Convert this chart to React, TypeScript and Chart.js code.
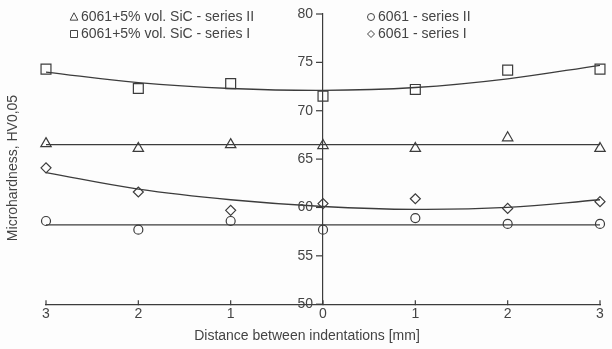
import React, { useEffect, useRef } from "react";
import { Chart, registerables } from "chart.js";

Chart.register(...registerables);

const xPositions = [-3, -2, -1, 0, 1, 2, 3];
const xTickLabels = ["3", "2", "1", "0", "1", "2", "3"];
const yTicks = [50, 55, 60, 65, 70, 75, 80];

const sicSeriesII = [66.6, 66.1, 66.5, 66.4, 66.1, 67.2, 66.1];
const sicSeriesI = [74.3, 72.3, 72.8, 71.5, 72.2, 74.2, 74.3];
const alSeriesII = [58.6, 57.7, 58.6, 57.7, 58.9, 58.3, 58.3];
const alSeriesI = [64.1, 61.6, 59.7, 60.4, 60.9, 59.9, 60.6];

const sicSeriesIIFit = [66.5, 66.5, 66.5, 66.5, 66.5, 66.5, 66.5];
const sicSeriesIFit = [74.0, 72.9, 72.3, 72.1, 72.4, 73.3, 74.7];
const alSeriesIIFit = [58.2, 58.2, 58.2, 58.2, 58.2, 58.2, 58.2];
const alSeriesIFit = [63.6, 61.9, 60.8, 60.1, 59.8, 60.0, 60.8];

const legendLabels = [
  "6061+5% vol. SiC - series II",
  "6061+5% vol. SiC - series I",
  "6061 - series II",
  "6061 - series I",
];
const xTitle = "Distance between indentations [mm]";
const yTitle = "Microhardness, HV0,05";

const TEXT = "#444444";
const LINE = "#3c3c3c";
const FONT = "'Liberation Sans', Arial, sans-serif";

function pts(vals: number[]) {
  return xPositions.map((x, i) => ({ x, y: vals[i] }));
}

function drawMarker(ctx: CanvasRenderingContext2D, style: string, x: number, y: number, s: number) {
  ctx.beginPath();
  if (style === "triangle") {
    ctx.moveTo(x, y - s * 0.6);
    ctx.lineTo(x + s * 0.55, y + s * 0.45);
    ctx.lineTo(x - s * 0.55, y + s * 0.45);
    ctx.closePath();
  } else if (style === "rect") {
    ctx.rect(x - s / 2, y - s / 2, s, s);
  } else if (style === "circle") {
    ctx.arc(x, y, s / 2, 0, Math.PI * 2);
  } else {
    ctx.moveTo(x, y - s / 2);
    ctx.lineTo(x + s / 2, y);
    ctx.lineTo(x, y + s / 2);
    ctx.lineTo(x - s / 2, y);
    ctx.closePath();
  }
  ctx.stroke();
}

const decorPlugin = {
  id: "decor",
  afterDraw(chart: any) {
    const ctx = chart.ctx as CanvasRenderingContext2D;
    const ys = chart.scales.y;
    const xs = chart.scales.x;
    const x0 = xs.getPixelForValue(0);
    const yb = ys.getPixelForValue(50);
    ctx.save();
    ctx.fillStyle = TEXT;
    ctx.strokeStyle = LINE;
    ctx.lineWidth = 1.2;
    ctx.font = `14px ${FONT}`;
    ctx.textBaseline = "middle";
    // x tick marks (pointing up)
    xPositions.forEach((v) => {
      const px = xs.getPixelForValue(v);
      ctx.beginPath();
      ctx.moveTo(px, yb + 1);
      ctx.lineTo(px, yb - 4);
      ctx.stroke();
    });
    // y ticks and labels
    ctx.textAlign = "right";
    yTicks.forEach((v) => {
      const py = ys.getPixelForValue(v);
      ctx.beginPath();
      ctx.moveTo(x0 - 7, py);
      ctx.lineTo(x0, py);
      ctx.stroke();
      ctx.fillText(String(v), x0 - 10, py);
    });
    ctx.strokeStyle = TEXT;
    ctx.lineWidth = 1;
    ctx.textAlign = "left";
    const items = [
      { style: "triangle", x: 74, y: 17, label: legendLabels[0] },
      { style: "rect", x: 74, y: 34, label: legendLabels[1] },
      { style: "circle", x: 371, y: 17, label: legendLabels[2] },
      { style: "diamond", x: 371, y: 34, label: legendLabels[3] },
    ];
    items.forEach((it) => {
      drawMarker(ctx, it.style, it.x, it.y, 7);
      ctx.fillText(it.label, it.x + 7, it.y);
    });
    ctx.textAlign = "center";
    ctx.fillText(xTitle, 307, 336);
    ctx.translate(13, 168);
    ctx.rotate(-Math.PI / 2);
    ctx.fillText(yTitle, 0, 0);
    ctx.restore();
  },
};

export default function App() {
  const ref = useRef<HTMLCanvasElement | null>(null);
  useEffect(() => {
    if (!ref.current) return;
    const markerBase = {
      showLine: false,
      borderColor: LINE,
      backgroundColor: "rgba(0,0,0,0)",
      pointBorderWidth: 1.2,
      clip: false as any,
    };
    const fitBase = {
      showLine: true,
      borderColor: LINE,
      borderWidth: 1.3,
      pointRadius: 0,
      tension: 0.4,
      fill: false,
      clip: false as any,
    };
    const chart = new Chart(ref.current, {
      type: "scatter",
      data: {
        datasets: [
          { ...fitBase, data: pts(sicSeriesIFit) },
          { ...fitBase, data: pts(sicSeriesIIFit) },
          { ...fitBase, data: pts(alSeriesIFit) },
          { ...fitBase, data: pts(alSeriesIIFit) },
          { ...markerBase, data: pts(sicSeriesI), pointStyle: "rect", pointRadius: 7 },
          { ...markerBase, data: pts(sicSeriesII), pointStyle: "triangle", pointRadius: 6 },
          { ...markerBase, data: pts(alSeriesI), pointStyle: "rectRot", pointRadius: 5 },
          { ...markerBase, data: pts(alSeriesII), pointStyle: "circle", pointRadius: 4.5 },
        ] as any,
      },
      options: {
        animation: false,
        responsive: false,
        maintainAspectRatio: false,
        layout: { padding: { left: 46, right: 12, top: 14, bottom: 24 } },
        plugins: { legend: { display: false }, tooltip: { enabled: false } },
        scales: {
          x: {
            type: "linear",
            min: -3,
            max: 3,
            afterBuildTicks: (axis: any) => {
              axis.ticks = xPositions.map((v) => ({ value: v }));
            },
            ticks: {
              color: TEXT,
              font: { size: 14, family: FONT },
              padding: 2,
              callback: (v: any) => xTickLabels[xPositions.indexOf(Number(v))] ?? "",
            },
            grid: { drawOnChartArea: false, drawTicks: false },
            border: { color: LINE, width: 1.2 },
          },
          y: {
            type: "linear",
            min: 50,
            max: 80,
            position: { x: 0 } as any,
            afterBuildTicks: (axis: any) => {
              axis.ticks = yTicks.map((v) => ({ value: v }));
            },
            ticks: { display: false },
            grid: { drawOnChartArea: false, drawTicks: false },
            border: { color: LINE, width: 1.2 },
          },
        },
      },
      plugins: [decorPlugin],
    });
    return () => chart.destroy();
  }, []);
  return (
    <div style={{ position: "fixed", left: 0, top: 0, width: 612, height: 349, background: "#fdfdfd" }}>
      <canvas ref={ref} width={612} height={349} style={{ width: 612, height: 349, display: "block" }} />
    </div>
  );
}
